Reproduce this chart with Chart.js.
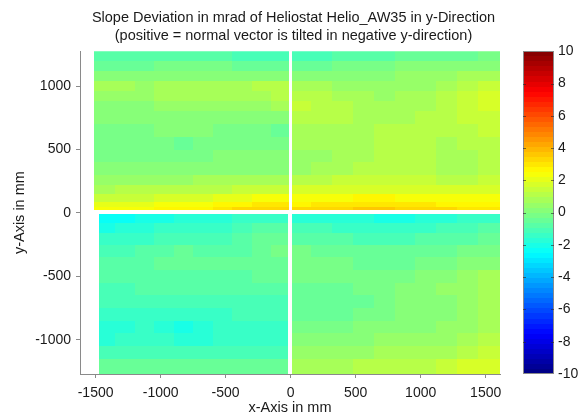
<!DOCTYPE html>
<html>
<head>
<meta charset="utf-8">
<script src="https://cdn.jsdelivr.net/npm/chart.js@4.4.1/dist/chart.umd.min.js"></script>
<style>
  html, body { margin: 0; padding: 0; background: #fff; }
</style>
</head>
<body>
<canvas id="myChart" width="587" height="417"></canvas>
<script>
// cell edges in mm
const xEdgesUL = [-1510, -1350, -1200, -1050, -900, -750, -600, -450, -300, -150, -14];
const xEdgesLL = [-1475, -1350, -1200, -1050, -900, -750, -600, -450, -300, -150, -17];
const xEdgesR = [11, 160, 320, 480, 640, 800, 960, 1120, 1280, 1440, 1610];
const yEdgesUpper = [1275, 1200, 1120, 1040, 960, 880, 800, 700, 600, 500, 400, 300, 220, 150, 90, 45, 20];
const yEdgesLower = [-6, -80, -160, -250, -350, -450, -550, -650, -750, -850, -950, -1050, -1150, -1270];

// slope deviation in mrad, rows top to bottom
const upperLeft = [
  [-0.8, -0.8, -0.9, -0.9, -0.9, -0.9, -0.9, -1.0, -1.1, -1.1],
  [-0.4, -0.4, -0.4, -0.3, -0.3, -0.3, -0.3, -0.4, -0.4, -0.5],
  [0.0, 0.0, 0.1, 0.1, 0.2, 0.2, 0.2, 0.2, 0.3, 0.3],
  [0.7, 0.7, 0.6, 0.8, 0.9, 0.9, 0.8, 0.8, 1.0, 1.1],
  [0.6, 0.5, 0.5, 0.7, 0.8, 0.8, 0.7, 0.7, 0.9, 1.0],
  [0.3, 0.3, 0.3, 0.4, 0.5, 0.5, 0.5, 0.5, 0.6, 0.7],
  [0.1, 0.1, 0.2, 0.3, 0.3, 0.3, 0.3, 0.2, 0.3, 0.3],
  [-0.3, -0.3, -0.1, 0.0, 0.0, 0.0, -0.1, -0.1, -0.3, -0.4],
  [-0.2, -0.1, -0.1, -0.3, -0.4, -0.2, -0.1, -0.1, -0.1, -0.2],
  [-0.1, -0.1, -0.1, -0.2, -0.3, -0.1, 0.0, 0.0, 0.0, 0.0],
  [0.1, 0.2, 0.2, 0.2, 0.2, 0.3, 0.3, 0.3, 0.3, 0.3],
  [0.5, 0.6, 0.6, 0.6, 0.6, 0.7, 0.7, 0.7, 0.8, 0.8],
  [0.9, 1.0, 1.0, 1.0, 1.1, 1.1, 1.2, 1.3, 1.4, 1.5],
  [1.4, 1.5, 1.5, 1.6, 1.7, 1.8, 1.9, 2.0, 2.2, 2.3],
  [1.9, 2.0, 2.1, 2.2, 2.3, 2.4, 2.6, 2.8, 3.0, 3.1],
  [2.2, 2.3, 2.4, 2.5, 2.6, 2.8, 3.0, 3.2, 3.4, 3.4]
];
const upperRight = [
  [-1.0, -1.0, -0.9, -0.8, -0.7, -0.6, -0.5, -0.4, -0.4, -0.3],
  [-0.4, -0.4, -0.3, -0.2, -0.1, 0.0, 0.1, 0.2, 0.3, 0.3],
  [0.2, 0.2, 0.3, 0.3, 0.3, 0.4, 0.5, 0.6, 0.8, 0.9],
  [0.9, 0.8, 0.6, 0.5, 0.5, 0.5, 0.6, 0.9, 1.2, 1.4],
  [1.2, 1.1, 0.8, 0.7, 0.6, 0.7, 0.8, 1.1, 1.5, 1.7],
  [1.3, 1.2, 1.0, 0.8, 0.8, 0.8, 0.9, 1.2, 1.5, 1.7],
  [1.2, 1.1, 1.0, 0.9, 0.9, 0.9, 1.0, 1.1, 1.3, 1.5],
  [0.9, 0.9, 0.9, 0.9, 1.0, 1.0, 1.0, 1.0, 1.1, 1.3],
  [0.7, 0.7, 0.8, 0.9, 1.1, 1.1, 1.0, 0.9, 1.0, 1.1],
  [0.5, 0.5, 0.7, 0.9, 1.0, 1.0, 1.0, 0.9, 0.9, 1.0],
  [0.6, 0.7, 0.9, 1.0, 1.0, 1.0, 1.0, 0.9, 0.9, 1.0],
  [1.1, 1.2, 1.3, 1.3, 1.3, 1.3, 1.3, 1.2, 1.2, 1.3],
  [1.6, 1.7, 1.8, 1.8, 1.8, 1.8, 1.8, 1.7, 1.7, 1.8],
  [2.2, 2.3, 2.4, 2.5, 2.5, 2.4, 2.4, 2.3, 2.3, 2.3],
  [2.8, 2.9, 3.0, 3.1, 3.1, 3.0, 2.9, 2.8, 2.8, 2.8],
  [3.2, 3.3, 3.4, 3.5, 3.5, 3.4, 3.3, 3.2, 3.1, 3.1]
];
const lowerLeft = [
  [-2.4, -2.3, -2.1, -1.9, -1.8, -1.8, -1.7, -1.5, -1.4, -1.4],
  [-1.9, -1.8, -1.6, -1.4, -1.3, -1.3, -1.3, -1.2, -0.9, -0.8],
  [-1.5, -1.4, -1.3, -1.2, -1.1, -1.0, -1.0, -0.9, -0.6, -0.4],
  [-1.0, -1.0, -0.9, -0.7, -0.6, -0.7, -0.8, -0.7, -0.4, -0.3],
  [-0.9, -0.9, -0.7, -0.5, -0.4, -0.5, -0.6, -0.6, -0.4, -0.4],
  [-0.9, -0.9, -0.8, -0.7, -0.7, -0.7, -0.7, -0.7, -0.6, -0.6],
  [-1.0, -1.0, -0.9, -0.9, -0.9, -0.8, -0.8, -0.8, -0.8, -0.8],
  [-1.2, -1.2, -1.1, -1.1, -1.1, -1.0, -1.0, -1.0, -1.0, -1.0],
  [-1.5, -1.4, -1.3, -1.4, -1.5, -1.4, -1.3, -1.2, -1.2, -1.2],
  [-1.8, -1.6, -1.5, -1.7, -1.9, -1.8, -1.5, -1.4, -1.3, -1.3],
  [-1.6, -1.5, -1.4, -1.5, -1.7, -1.6, -1.4, -1.3, -1.3, -1.3],
  [-1.1, -1.1, -1.0, -1.1, -1.1, -1.1, -1.0, -1.0, -1.0, -1.0],
  [-0.5, -0.5, -0.5, -0.6, -0.6, -0.5, -0.5, -0.4, -0.4, -0.4]
];
const lowerRight = [
  [-1.6, -1.6, -1.7, -1.8, -1.9, -1.9, -1.8, -1.6, -1.4, -1.3],
  [-1.2, -1.2, -1.3, -1.4, -1.4, -1.4, -1.3, -1.2, -1.0, -0.9],
  [-0.8, -0.8, -0.9, -1.0, -1.0, -1.0, -0.9, -0.8, -0.7, -0.6],
  [-0.3, -0.4, -0.5, -0.6, -0.6, -0.6, -0.5, -0.4, -0.2, -0.1],
  [-0.2, -0.2, -0.3, -0.4, -0.5, -0.4, -0.3, -0.1, 0.1, 0.2],
  [-0.3, -0.3, -0.3, -0.3, -0.3, -0.2, 0.0, 0.3, 0.5, 0.7],
  [-0.4, -0.4, -0.4, -0.3, -0.2, 0.0, 0.2, 0.4, 0.6, 0.9],
  [-0.5, -0.5, -0.5, -0.4, -0.2, 0.0, 0.1, 0.3, 0.6, 0.8],
  [-0.4, -0.4, -0.4, -0.3, -0.1, 0.0, 0.1, 0.3, 0.5, 0.7],
  [-0.1, -0.1, -0.1, 0.0, 0.1, 0.2, 0.3, 0.4, 0.6, 0.8],
  [0.2, 0.2, 0.2, 0.3, 0.4, 0.4, 0.5, 0.6, 0.8, 1.0],
  [0.5, 0.5, 0.5, 0.6, 0.7, 0.7, 0.8, 0.9, 1.1, 1.3],
  [0.9, 0.9, 0.9, 1.0, 1.1, 1.1, 1.2, 1.4, 1.6, 1.8]
];

const xTicks = [-1500, -1000, -500, 0, 500, 1000, 1500];
const yTicks = [-1000, -500, 0, 500, 1000];
const colorTicks = [-10, -8, -6, -4, -2, 0, 2, 4, 6, 8, 10];
const cMin = -10, cMax = 10;

const FONT = '"Liberation Sans", Arial, sans-serif';
const AXIS_GREY = '#8a8a8a';
const TEXT = '#1a1a1a';

// matlab-ish jet, 64 levels
function jet(v) {
  let i = Math.floor((v - cMin) / (cMax - cMin) * 64);
  i = Math.min(63, Math.max(0, i));
  const t = (i + 0.5) / 64;
  const f = k => Math.round(255 * Math.min(1, Math.max(0, 1.5 - Math.abs(4 * t - k))));
  return 'rgb(' + f(3) + ',' + f(2) + ',' + f(1) + ')';
}

function cells(xEdges, yEdges, rows) {
  const out = [];
  rows.forEach((row, r) => {
    row.forEach((v, c) => {
      out.push({
        x: (xEdges[c] + xEdges[c + 1]) / 2,
        y: (yEdges[r] + yEdges[r + 1]) / 2,
        x0: xEdges[c], x1: xEdges[c + 1],
        y0: yEdges[r + 1], y1: yEdges[r],
        v: v
      });
    });
  });
  return out;
}

const heatmap = {
  id: 'heatmap',
  beforeDatasetsDraw(chart) {
    const { ctx, chartArea, scales: { x, y } } = chart;
    ctx.save();
    ctx.beginPath();
    ctx.rect(chartArea.left, chartArea.top, chartArea.right - chartArea.left, chartArea.bottom - chartArea.top);
    ctx.clip();
    chart.data.datasets.forEach(ds => {
      ds.data.forEach(d => {
        const px0 = Math.round(x.getPixelForValue(d.x0));
        const px1 = Math.round(x.getPixelForValue(d.x1));
        const py0 = Math.round(y.getPixelForValue(d.y0));
        const py1 = Math.round(y.getPixelForValue(d.y1));
        ctx.fillStyle = jet(d.v);
        ctx.fillRect(px0, py1, px1 - px0, py0 - py1);
      });
    });
    ctx.restore();
  }
};

const colorbar = {
  id: 'colorbar',
  afterDraw(chart) {
    const { ctx } = chart;
    const cb = chart.scales.cb;
    const left = cb.left + 23, right = cb.left + 54;
    const n = 64;
    for (let i = 0; i < n; i++) {
      const v0 = cMin + (cMax - cMin) * i / n;
      const v1 = cMin + (cMax - cMin) * (i + 1) / n;
      const ya = Math.round(cb.getPixelForValue(v0));
      const yb = Math.round(cb.getPixelForValue(v1));
      ctx.fillStyle = jet((v0 + v1) / 2);
      ctx.fillRect(left, yb, right - left, ya - yb);
    }
    const top = cb.getPixelForValue(cMax), bottom = cb.getPixelForValue(cMin);
    ctx.strokeStyle = AXIS_GREY;
    ctx.lineWidth = 1;
    ctx.strokeRect(left + 0.5, Math.round(top) + 0.5, right - left - 1, Math.round(bottom - top) - 1);
    ctx.strokeStyle = 'rgba(40,40,40,0.6)';
    colorTicks.forEach(t => {
      if (t === cMin || t === cMax) return;
      const yy = Math.round(cb.getPixelForValue(t)) + 0.5;
      ctx.beginPath();
      ctx.moveTo(left, yy); ctx.lineTo(left + 3, yy);
      ctx.moveTo(right - 3, yy); ctx.lineTo(right, yy);
      ctx.stroke();
    });
  }
};

new Chart(document.getElementById('myChart'), {
  type: 'scatter',
  data: {
    datasets: [
      { label: 'upper left', data: cells(xEdgesUL, yEdgesUpper, upperLeft) },
      { label: 'upper right', data: cells(xEdgesR, yEdgesUpper, upperRight) },
      { label: 'lower left', data: cells(xEdgesLL, yEdgesLower, lowerLeft) },
      { label: 'lower right', data: cells(xEdgesR, yEdgesLower, lowerRight) }
    ]
  },
  options: {
    responsive: false,
    animation: false,
    devicePixelRatio: 1,
    elements: { point: { radius: 0, hoverRadius: 0 } },
    layout: { padding: 0, autoPadding: false },
    plugins: {
      legend: { display: false },
      tooltip: { enabled: false },
      title: {
        display: true,
        text: ['Slope Deviation in mrad of Heliostat Helio_AW35 in y-Direction',
               '(positive = normal vector is tilted in negative y-direction)'],
        color: TEXT,
        font: { family: FONT, size: 14.5, weight: 'normal', lineHeight: 1.25 },
        padding: { top: 9, bottom: 6 }
      }
    },
    scales: {
      x: {
        type: 'linear',
        min: -1620,
        max: 1610,
        afterFit: s => { s.height = 43; },
        afterBuildTicks: s => { s.ticks = xTicks.map(v => ({ value: v })); },
        border: { display: true, color: AXIS_GREY },
        grid: { drawOnChartArea: false, drawTicks: true, tickLength: 4, color: AXIS_GREY },
        ticks: { color: TEXT, font: { family: FONT, size: 14 }, padding: 7, maxRotation: 0,
                 callback: v => String(v) },
        title: { display: true, text: 'x-Axis in mm', color: TEXT,
                 font: { family: FONT, size: 14.5 }, padding: { top: 0, bottom: 0 } }
      },
      y: {
        type: 'linear',
        position: 'left',
        min: -1270,
        max: 1275,
        afterFit: s => { s.width = 80; s.paddingTop = 0; s.paddingBottom = 0; },
        afterBuildTicks: s => { s.ticks = yTicks.map(v => ({ value: v })); },
        border: { display: true, color: AXIS_GREY },
        grid: { drawOnChartArea: false, drawTicks: true, tickLength: 4, color: AXIS_GREY },
        ticks: { color: TEXT, font: { family: FONT, size: 14 }, padding: 5,
                 callback: v => String(v) },
        title: { display: true, text: 'y-Axis in mm', color: TEXT,
                 font: { family: FONT, size: 14.5 }, padding: { top: 11, bottom: 0 } }
      },
      cb: {
        type: 'linear',
        position: 'right',
        min: cMin,
        max: cMax,
        // labels sit right of the bar; keep their padding out of the layout
        afterFit: s => { s.width = 87; s.paddingTop = 0; s.paddingBottom = 0; },
        afterBuildTicks: s => { s.ticks = colorTicks.map(v => ({ value: v })); },
        border: { display: false },
        grid: { display: false, drawTicks: false },
        ticks: { color: TEXT, font: { family: FONT, size: 14 }, padding: 58,
                 callback: v => String(v) }
      }
    }
  },
  plugins: [heatmap, colorbar]
});
</script>
</body>
</html>
